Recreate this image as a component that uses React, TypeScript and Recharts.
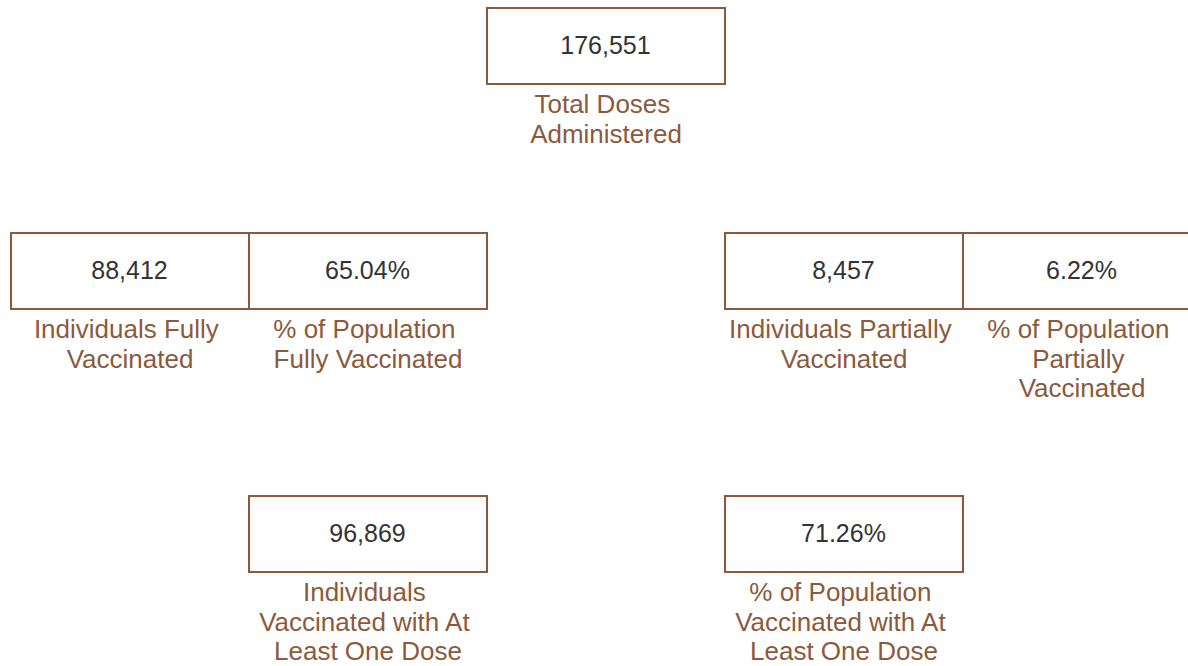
import React from "react";
import { ScatterChart, Scatter, XAxis, YAxis } from "recharts";

// Metric values
const METRIC_VALUES = [176551, 88412, 65.04, 8457, 6.22, 96869, 71.26];
const METRIC_KINDS = ["count", "count", "percent", "count", "percent", "count", "percent"];
const METRIC_LABELS = [
  ["Total Doses", "Administered"],
  ["Individuals Fully", "Vaccinated"],
  ["% of Population", "Fully Vaccinated"],
  ["Individuals Partially", "Vaccinated"],
  ["% of Population", "Partially", "Vaccinated"],
  ["Individuals", "Vaccinated with At", "Least One Dose"],
  ["% of Population", "Vaccinated with At", "Least One Dose"],
];
// Grid layout (column index, row index)
const GRID_COLS = [2, 0, 1, 3, 4, 1, 3];
const GRID_ROWS = [0, 1, 1, 1, 1, 2, 2];
const ROW_POSITIONS = [0, 1, 2.169];

const BORDER = "#8b5a3c";
const LABEL = "#8b5a3c";
const VALUE = "#333333";
const FONT = "'Liberation Sans', Arial, sans-serif";
const BOX_W = 238;
const BOX_H = 76;

const fmt = (v: number, kind: string) =>
  kind === "percent" ? v.toFixed(2) + "%" : v.toLocaleString("en-US");

const data = METRIC_VALUES.map((v, i) => ({
  col: GRID_COLS[i],
  row: ROW_POSITIONS[GRID_ROWS[i]],
  text: fmt(v, METRIC_KINDS[i]),
  lines: METRIC_LABELS[i],
}));

const Tile = (props: any) => {
  const { cx, cy, payload } = props;
  if (cx == null || cy == null) return null;
  const n = payload.lines.length;
  return (
    <g>
      <rect
        x={cx - BOX_W / 2}
        y={cy - BOX_H / 2}
        width={BOX_W}
        height={BOX_H}
        fill="#ffffff"
        stroke={BORDER}
        strokeWidth={2}
      />
      <text x={cx - 0.5} y={cy + 8} textAnchor="middle" fontFamily={FONT} fontSize={25} fill={VALUE}>
        {payload.text}
      </text>
      {payload.lines.map((ln: string, j: number) => (
        <text
          key={j}
          x={j < n - 1 ? cx - 3.6 : cx}
          y={cy + 67 + j * 29.7}
          textAnchor="middle"
          fontFamily={FONT}
          fontSize={26}
          fill={LABEL}
        >
          {ln}
        </text>
      ))}
    </g>
  );
};

export default function App() {
  return (
    <div style={{ position: "absolute", left: 0, top: 0, width: 1188, height: 666, background: "#fff" }}>
      <ScatterChart width={1188} height={666} margin={{ top: 0, right: 0, bottom: 0, left: 0 }}>
        <XAxis type="number" dataKey="col" hide domain={[-0.5462, 4.4454]} allowDataOverflow />
        <YAxis type="number" dataKey="row" hide reversed domain={[-0.2044, 2.7556]} allowDataOverflow />
        <Scatter data={data} shape={<Tile />} isAnimationActive={false} />
      </ScatterChart>
    </div>
  );
}
